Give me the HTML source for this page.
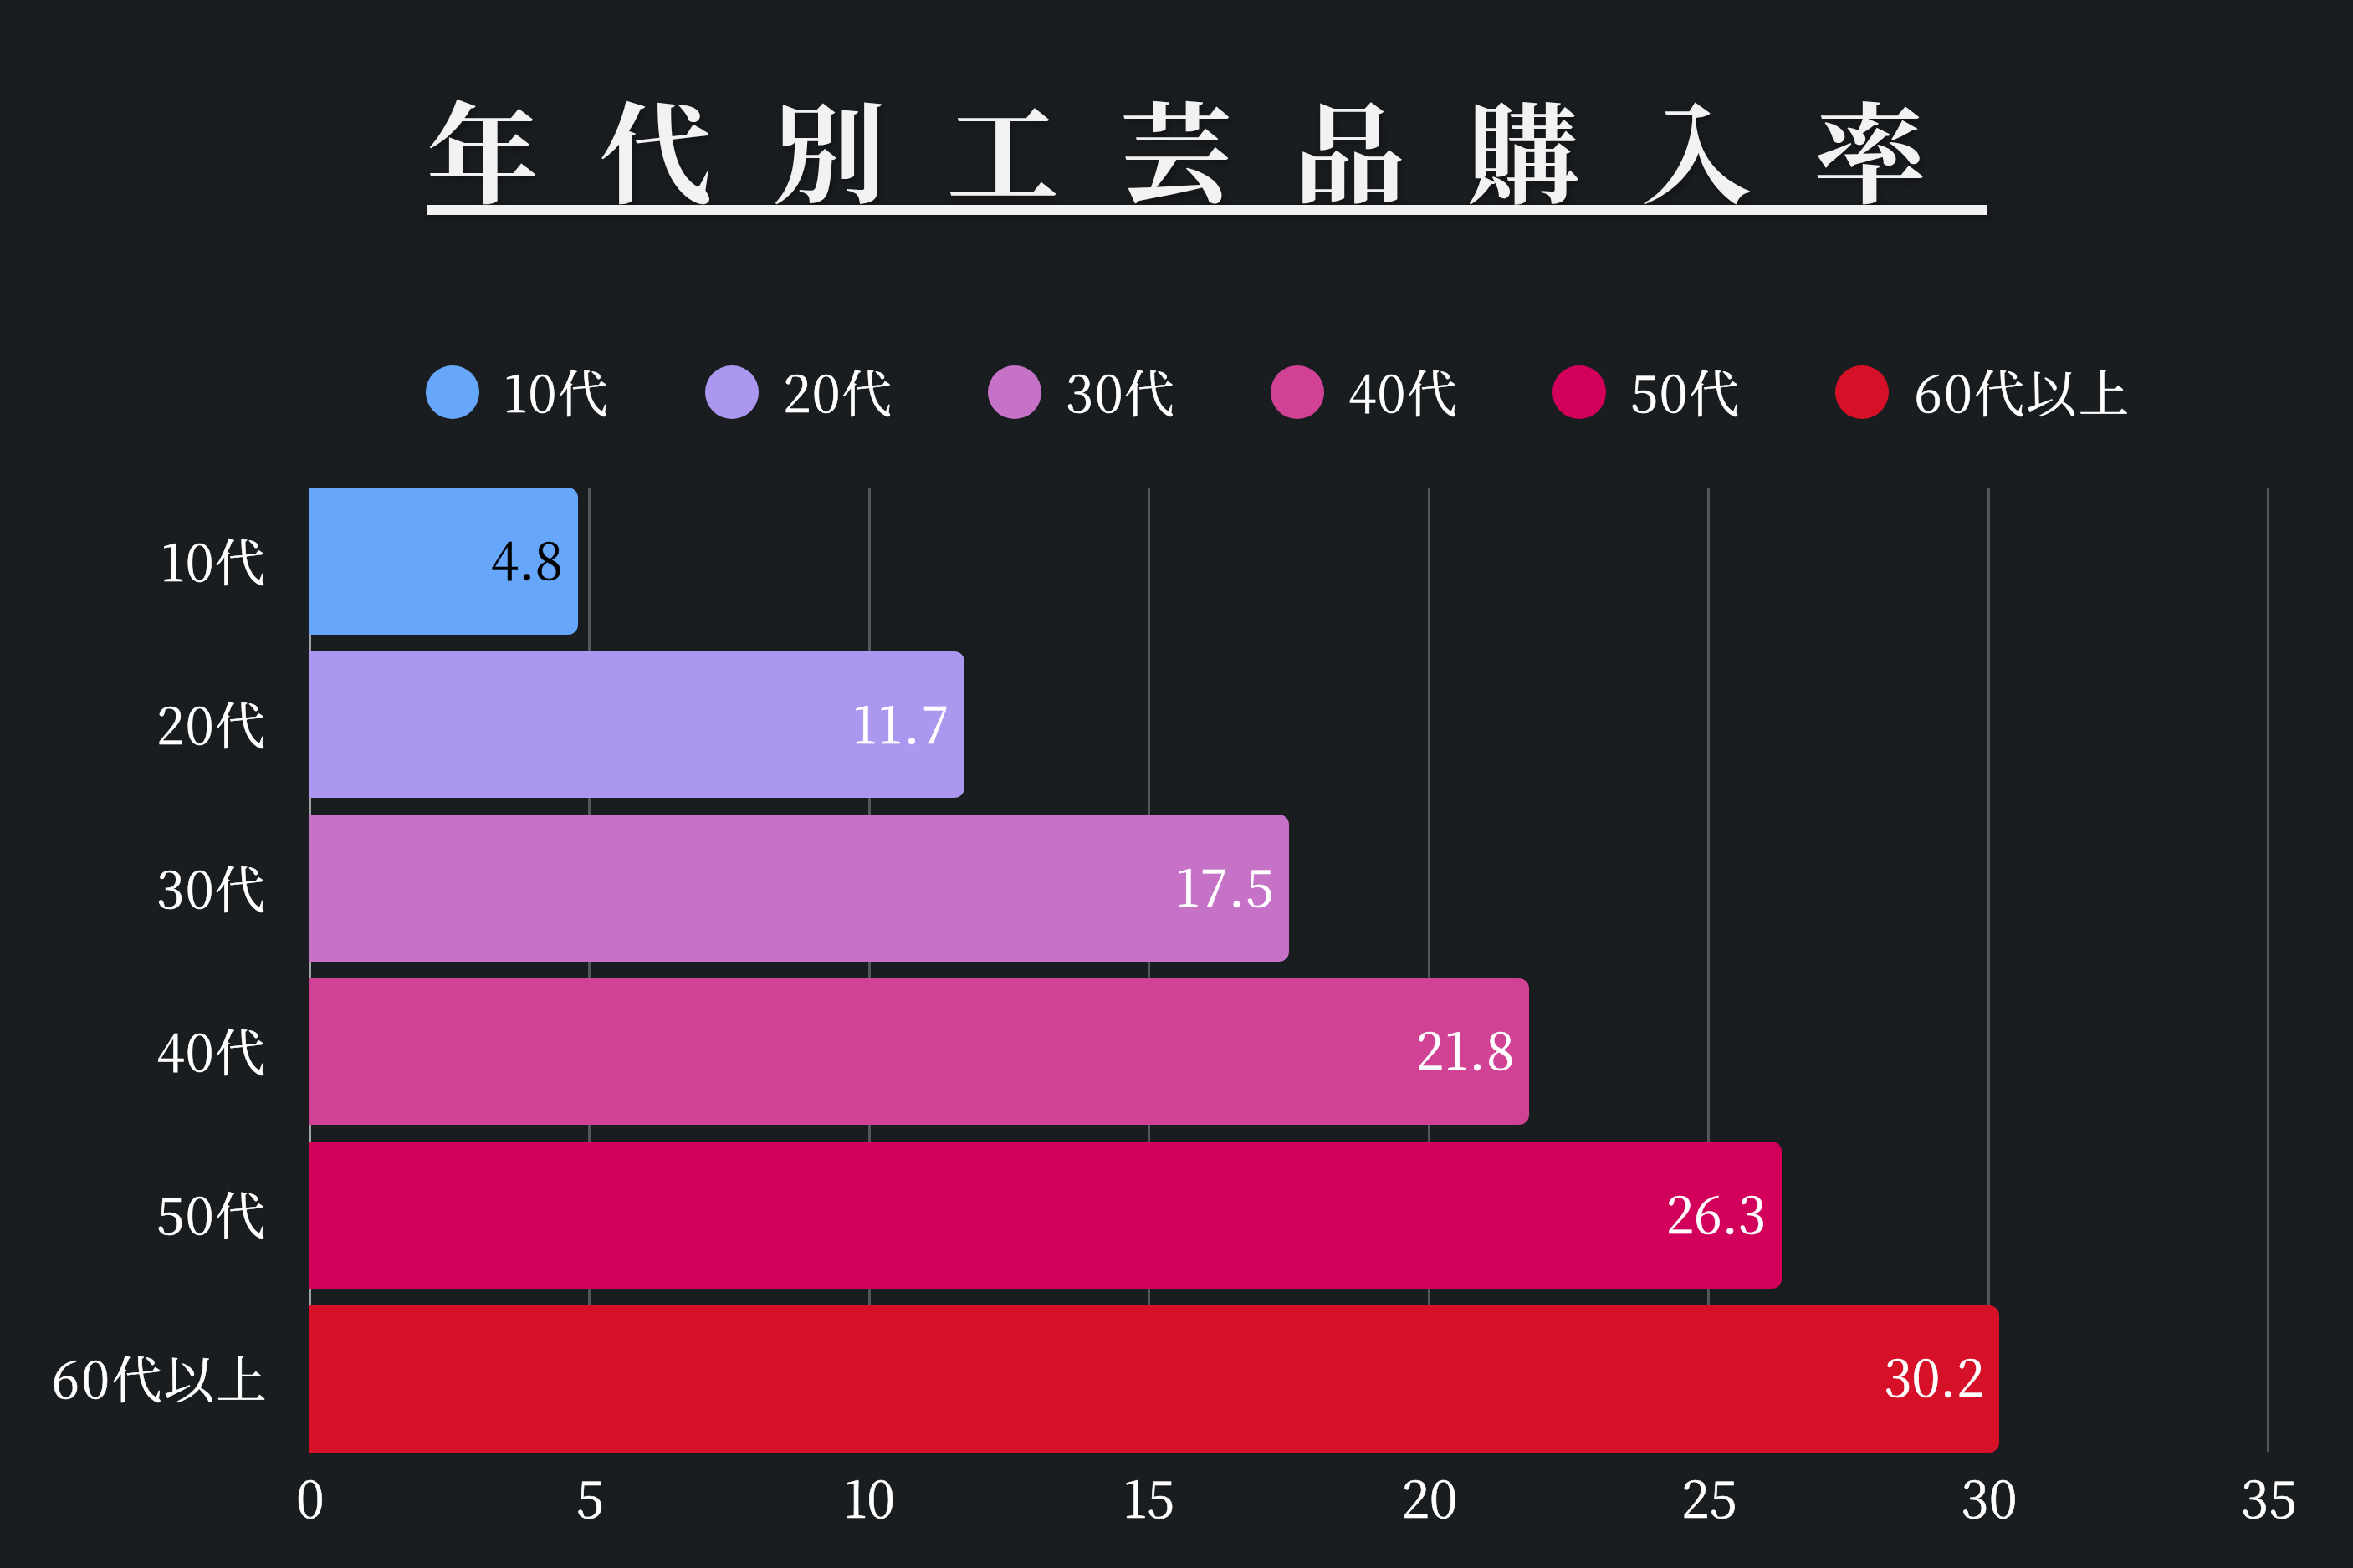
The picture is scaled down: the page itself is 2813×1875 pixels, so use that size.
<!DOCTYPE html>
<html lang="ja"><head><meta charset="utf-8"><title>年代別工芸品購入率</title>
<style>
html,body{margin:0;padding:0;}
body{width:2813px;height:1875px;background:#1a1d20;position:relative;overflow:hidden;
font-family:"Noto Serif CJK SC","Noto Serif CJK JP","Liberation Serif",serif;color:#fff;}
.abs{position:absolute;white-space:nowrap;}
.title{left:509.8px;top:78.5px;font-size:134.5px;font-weight:700;letter-spacing:72.8px;line-height:200px;color:#f2f2f2;
text-shadow:2px 4px 10px rgba(0,0,0,.4);transform:scaleY(0.968);transform-origin:0 13.7px;}
.uline{left:510.3px;top:244.8px;width:1864.4px;height:12.7px;background:#f2f2f2;box-shadow:2px 4px 10px rgba(0,0,0,.4);}
.t{font-size:60px;line-height:80px;-webkit-text-stroke:0.6px currentColor;}
.dot{width:63.6px;height:63.6px;border-radius:50%;top:437.1px;}
.grid{width:3.3px;top:583.3px;height:1152.5px;background:#53575b;}
.axis{left:370px;width:2px;top:583.3px;height:1152.5px;background:#9fa3a6;}
.bar{left:370px;height:175.6px;border-radius:0 12px 12px 0;}
.ylab{right:2494.5px;text-align:right;letter-spacing:1.5px;}
.lg{letter-spacing:1.5px;}
.val{text-align:right;}
.xl{width:200px;text-align:center;top:1749.3px;}
</style></head><body>
<div class="abs title">年代別工芸品購入率</div>
<div class="abs uline"></div>
<div class="abs dot" style="left:509px;background:#66a6fb"></div><div class="abs t lg" style="left:602px;top:426.6px">10代</div>
<div class="abs dot" style="left:843px;background:#ab96f0"></div><div class="abs t lg" style="left:936px;top:426.6px">20代</div>
<div class="abs dot" style="left:1181px;background:#c572c7"></div><div class="abs t lg" style="left:1274px;top:426.6px">30代</div>
<div class="abs dot" style="left:1519px;background:#d14194"></div><div class="abs t lg" style="left:1612px;top:426.6px">40代</div>
<div class="abs dot" style="left:1856px;background:#d2005b"></div><div class="abs t lg" style="left:1949px;top:426.6px">50代</div>
<div class="abs dot" style="left:2194px;background:#d61027"></div><div class="abs t lg" style="left:2288.2px;top:426.6px;letter-spacing:2.5px">60代以上</div>
<div class="abs axis"></div><div class="abs t xl" style="left:271.0px">0</div>
<div class="abs grid" style="left:703.0px"></div><div class="abs t xl" style="left:605.5px">5</div>
<div class="abs grid" style="left:1037.5px"></div><div class="abs t xl" style="left:939.0px">10</div>
<div class="abs grid" style="left:1372.0px"></div><div class="abs t xl" style="left:1273.5px">15</div>
<div class="abs grid" style="left:1706.5px"></div><div class="abs t xl" style="left:1609.0px">20</div>
<div class="abs grid" style="left:2041.0px"></div><div class="abs t xl" style="left:1943.5px">25</div>
<div class="abs grid" style="left:2375.4px"></div><div class="abs t xl" style="left:2278.0px">30</div>
<div class="abs grid" style="left:2709.9px"></div><div class="abs t xl" style="left:2612.5px">35</div>
<div class="abs bar" style="top:583.0px;width:321.1px;background:#66a6fb"></div><div class="abs t ylab" style="top:629.0px">10代</div><div class="abs t val" style="top:627.2px;right:2139.9px;color:#000">4.8</div>
<div class="abs bar" style="top:778.6px;width:782.7px;background:#ab96f0"></div><div class="abs t ylab" style="top:824.4px">20代</div><div class="abs t val" style="top:822.5px;right:1676.3px;color:#fff;letter-spacing:2.0px">11.7</div>
<div class="abs bar" style="top:974.2px;width:1170.8px;background:#c572c7"></div><div class="abs t ylab" style="top:1019.7px">30代</div><div class="abs t val" style="top:1017.9px;right:1289.2px;color:#fff;letter-spacing:1.0px">17.5</div>
<div class="abs bar" style="top:1169.8px;width:1458.4px;background:#d14194"></div><div class="abs t ylab" style="top:1215.0px">40代</div><div class="abs t val" style="top:1213.2px;right:1001.6px;color:#fff;letter-spacing:1.0px">21.8</div>
<div class="abs bar" style="top:1365.4px;width:1759.5px;background:#d2005b"></div><div class="abs t ylab" style="top:1410.4px">50代</div><div class="abs t val" style="top:1408.6px;right:701.5px;color:#fff">26.3</div>
<div class="abs bar" style="top:1561.0px;width:2020.4px;background:#d61027"></div><div class="abs t ylab" style="top:1605.8px;letter-spacing:2.5px;right:2492px">60代以上</div><div class="abs t val" style="top:1604.0px;right:440.6px;color:#fff">30.2</div>
</body></html>
